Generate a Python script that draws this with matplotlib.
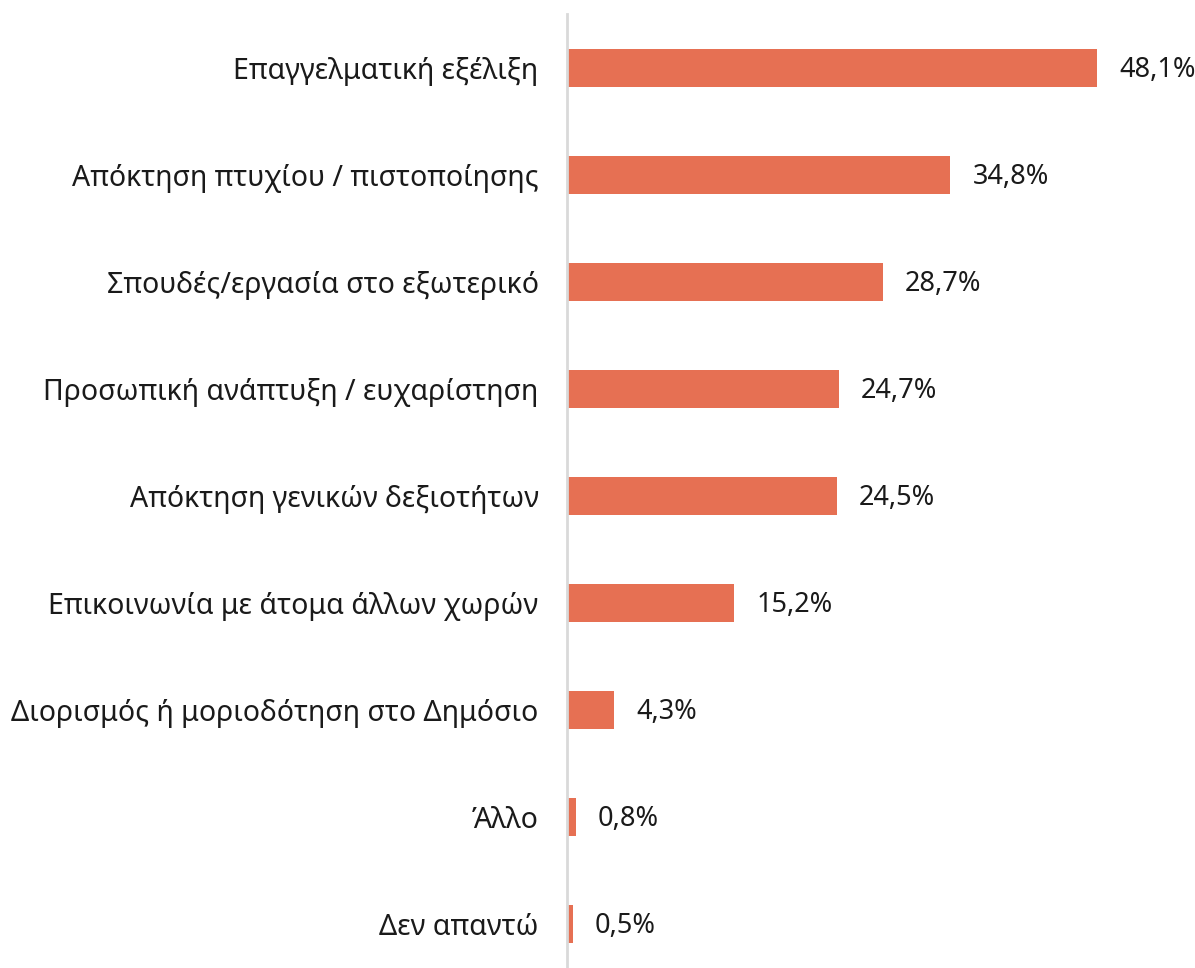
import matplotlib.pyplot as plt

categories = [
    'Επαγγελματική εξέλιξη',
    'Απόκτηση πτυχίου / πιστοποίησης',
    'Σπουδές/εργασία στο εξωτερικό',
    'Προσωπική ανάπτυξη / ευχαρίστηση',
    'Απόκτηση γενικών δεξιοτήτων',
    'Επικοινωνία με άτομα άλλων χωρών',
    'Διορισμός ή μοριοδότηση στο Δημόσιο',
    'Άλλο',
    'Δεν απαντώ',
]
values = [48.1, 34.8, 28.7, 24.7, 24.5, 15.2, 4.3, 0.8, 0.5]
labels = ['48,1%', '34,8%', '28,7%', '24,7%', '24,5%', '15,2%', '4,3%', '0,8%', '0,5%']

plt.rcParams['font.family'] = ['Noto Sans', 'DejaVu Sans']

fig = plt.figure(figsize=(11.95, 9.68), dpi=100)
ax = fig.add_axes([567 / 1195, 0, 628 / 1195, 954 / 968])

n = len(categories)
ypos = [n - 1 - i for i in range(n)]
ax.barh(ypos, values, height=0.355, color='#E67053')

for y, v, lab in zip(ypos, values, labels):
    ax.text(v + 2.0, y - 0.02, lab, va='center', ha='left', fontsize=19.5, color='#1a1a1a')

ax.set_xlim(0, 57)
ax.set_ylim(-0.41, 8.5)
ax.set_yticks(ypos)
ax.set_yticklabels(categories, fontsize=20.5, color='#1a1a1a')
ax.tick_params(axis='y', length=0, pad=20.5)
ax.set_xticks([])

for side in ['top', 'right', 'bottom']:
    ax.spines[side].set_visible(False)
ax.spines['left'].set_color('#d9d9d9')
ax.spines['left'].set_linewidth(2)

fig.savefig('out.png', dpi=100)
